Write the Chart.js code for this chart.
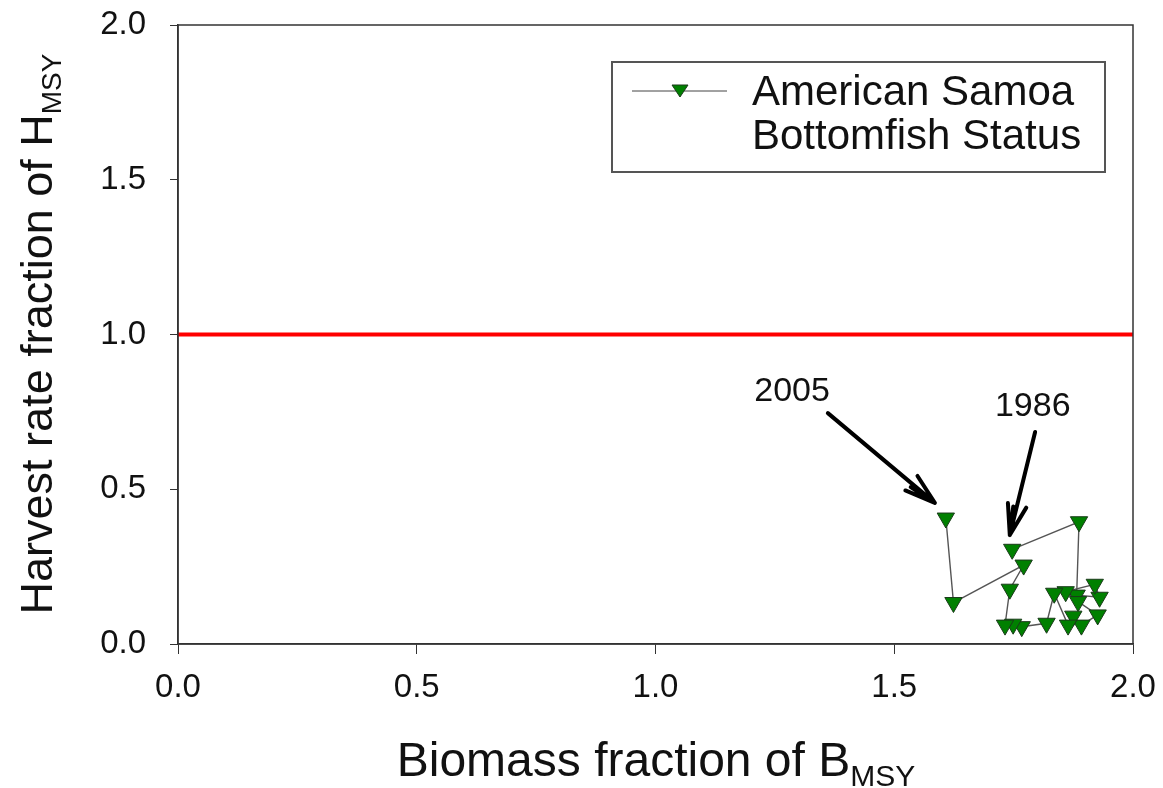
<!DOCTYPE html>
<html>
<head>
<meta charset="utf-8">
<script src="https://cdn.jsdelivr.net/npm/chart.js@4/dist/chart.umd.min.js"></script>
<style>
  html, body { margin: 0; padding: 0; background: #fff; }
  #wrap { width: 1163px; height: 788px; position: relative; }
</style>
</head>
<body>
<div id="wrap"><canvas id="chart-status"></canvas></div>
<script>
// American Samoa bottomfish status, 1986 -> 2005
const years = [1986, 1987, 1988, 1989, 1990, 1991, 1992, 1993, 1994, 1995,
  1996, 1997, 1998, 1999, 2000, 2001, 2002, 2003, 2004, 2005];
const biomass = [1.747, 1.887, 1.882, 1.930, 1.920, 1.859, 1.885, 1.926, 1.892, 1.875,
  1.864, 1.835, 1.819, 1.767, 1.749, 1.732, 1.742, 1.771, 1.624, 1.608];
const harvest = [0.306, 0.395, 0.158, 0.151, 0.193, 0.169, 0.137, 0.094, 0.061, 0.090,
  0.061, 0.164, 0.067, 0.056, 0.064, 0.061, 0.177, 0.255, 0.134, 0.407];
const limitX = [0, 2];
const limitY = [1, 1];
const xTicks = [0, 0.5, 1, 1.5, 2];
const yTicks = [0, 0.5, 1, 1.5, 2];

// labelled years with arrows (data units)
const callouts = [
  { label: "2005", text: [1.286, 0.814], from: [1.361, 0.746], to: [1.585, 0.456] },
  { label: "1986", text: [1.790, 0.766], from: [1.795, 0.685], to: [1.742, 0.352] },
];

const FONT = "'Liberation Sans', Arial, sans-serif";

function drawSubText(ctx, main, sub, x, y, size, subSize) {
  ctx.font = size + "px " + FONT;
  const w1 = ctx.measureText(main).width;
  ctx.font = subSize + "px " + FONT;
  const w2 = ctx.measureText(sub).width;
  const start = x - (w1 + w2) / 2;
  ctx.textAlign = "left";
  ctx.textBaseline = "alphabetic";
  ctx.font = size + "px " + FONT;
  ctx.fillText(main, start, y);
  ctx.font = subSize + "px " + FONT;
  ctx.fillText(sub, start + w1, y + size * 0.2);
}

const decorPlugin = {
  id: "decor",
  afterDraw(chart) {
    const { ctx, chartArea, scales } = chart;
    const xs = scales.x, ys = scales.y;
    ctx.save();

    // frame around plot
    ctx.strokeStyle = "#333";
    ctx.lineWidth = 1.5;
    ctx.strokeRect(chartArea.left, chartArea.top,
      chartArea.right - chartArea.left, chartArea.bottom - chartArea.top);

    // axis titles with subscripts
    ctx.fillStyle = "#111";
    drawSubText(ctx, "Biomass fraction of B", "MSY", 656, 776, 48, 30);
    ctx.save();
    ctx.translate(52, 334);
    ctx.rotate(-Math.PI / 2);
    drawSubText(ctx, "Harvest rate fraction of H", "MSY", 0, 0, 45, 28);
    ctx.restore();

    // callouts
    callouts.forEach(c => {
      const tx = xs.getPixelForValue(c.text[0]), ty = ys.getPixelForValue(c.text[1]);
      ctx.font = "34px " + FONT;
      ctx.textAlign = "center";
      ctx.textBaseline = "middle";
      ctx.fillStyle = "#111";
      ctx.fillText(c.label, tx, ty);
      const x1 = xs.getPixelForValue(c.from[0]), y1 = ys.getPixelForValue(c.from[1]);
      const x2 = xs.getPixelForValue(c.to[0]), y2 = ys.getPixelForValue(c.to[1]);
      ctx.strokeStyle = "#000";
      ctx.lineWidth = 4;
      ctx.lineCap = "round";
      ctx.beginPath();
      ctx.moveTo(x1, y1);
      ctx.lineTo(x2, y2);
      const ang = Math.atan2(y2 - y1, x2 - x1);
      const hl = 32, spread = 0.3;
      ctx.moveTo(x2, y2);
      ctx.lineTo(x2 - hl * Math.cos(ang - spread), y2 - hl * Math.sin(ang - spread));
      ctx.moveTo(x2, y2);
      ctx.lineTo(x2 - hl * Math.cos(ang + spread), y2 - hl * Math.sin(ang + spread));
      ctx.moveTo(x2, y2);
      ctx.lineTo(x2 - hl * 0.9 * Math.cos(ang - 0.12), y2 - hl * 0.9 * Math.sin(ang - 0.12));
      ctx.stroke();
    });

    // legend box
    ctx.lineCap = "butt";
    ctx.strokeStyle = "#555";
    ctx.lineWidth = 2;
    ctx.strokeRect(612, 62, 493, 110);
    ctx.strokeStyle = "#444";
    ctx.lineWidth = 1;
    ctx.beginPath();
    ctx.moveTo(632, 91);
    ctx.lineTo(727, 91);
    ctx.stroke();
    ctx.fillStyle = "#008000";
    ctx.strokeStyle = "#1a3a1a";
    ctx.beginPath();
    ctx.moveTo(672, 85);
    ctx.lineTo(688, 85);
    ctx.lineTo(680, 97);
    ctx.closePath();
    ctx.fill();
    ctx.stroke();
    ctx.fillStyle = "#111";
    ctx.font = "42px " + FONT;
    ctx.textAlign = "left";
    ctx.textBaseline = "middle";
    ctx.fillText("American Samoa", 752, 93);
    ctx.fillText("Bottomfish Status", 752, 137);

    ctx.restore();
  },
};

const ctx = document.getElementById("chart-status").getContext("2d");
new Chart(ctx, {
  type: "scatter",
  data: {
    datasets: [
      {
        label: "American Samoa Bottomfish Status",
        data: biomass.map((b, i) => ({ x: b, y: harvest[i] })),
        showLine: true,
        borderColor: "#555",
        borderWidth: 1.4,
        pointStyle: "triangle",
        rotation: 180,
        pointRadius: 10,
        pointBackgroundColor: "#008000",
        pointBorderColor: "#1a3a1a",
        pointBorderWidth: 1,
        order: 1,
      },
      {
        label: "limit",
        data: limitX.map((v, i) => ({ x: v, y: limitY[i] })),
        showLine: true,
        borderColor: "#ff0000",
        borderWidth: 4,
        pointRadius: 0,
        order: 2,
      },
    ],
  },
  options: {
    responsive: true,
    maintainAspectRatio: false,
    animation: false,
    layout: { padding: { top: 25, right: 30, left: 0, bottom: 0 } },
    plugins: {
      legend: { display: false },
      tooltip: { enabled: false },
    },
    scales: {
      x: {
        type: "linear",
        min: 0,
        max: 2,
        afterFit: s => { s.height = 144; s.paddingLeft = 0; s.paddingRight = 0; },
        afterBuildTicks: s => { s.ticks = xTicks.map(v => ({ value: v })); },
        grid: { drawOnChartArea: false, drawTicks: true, tickLength: 10, color: "#333" },
        border: { display: true, color: "#333", width: 1.5 },
        ticks: {
          padding: 14,
          color: "#111",
          font: { size: 33, family: FONT },
          callback: v => v.toFixed(1),
        },
      },
      y: {
        type: "linear",
        min: 0,
        max: 2,
        afterFit: s => { s.width = 178; s.paddingTop = 0; s.paddingBottom = 0; },
        afterBuildTicks: s => { s.ticks = yTicks.map(v => ({ value: v })); },
        grid: { drawOnChartArea: false, drawTicks: true, tickLength: 8, color: "#333" },
        border: { display: true, color: "#333", width: 1.5 },
        ticks: {
          padding: 24,
          color: "#111",
          font: { size: 33, family: FONT },
          callback: v => v.toFixed(1),
        },
      },
    },
  },
  plugins: [decorPlugin],
});
</script>
</body>
</html>
